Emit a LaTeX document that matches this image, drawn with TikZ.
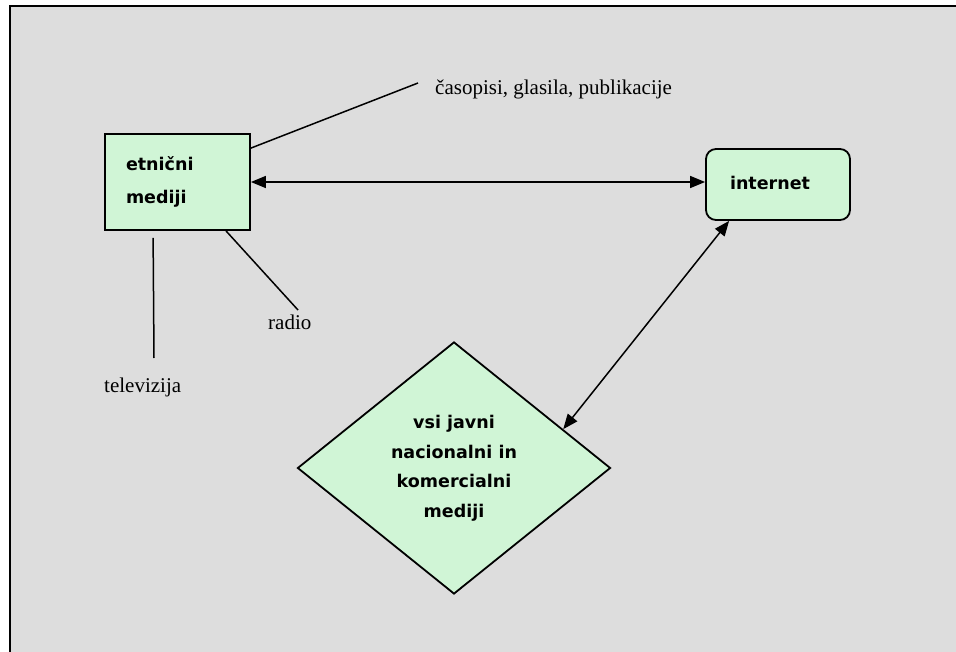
\documentclass[tikz,border=0pt]{standalone}
\usepackage{fontspec}
\setmainfont{Liberation Serif}
\newfontfamily\boxfont{DejaVu Sans}
\usetikzlibrary{arrows.meta,shapes.geometric,calc}
\definecolor{bg}{RGB}{221,221,221}
\definecolor{mint}{RGB}{208,245,214}
\begin{document}
\begin{tikzpicture}[x=1pt,y=-1pt,
  boxstyle/.style={draw=black, line width=1.8pt, fill=mint, inner sep=0pt,
    font=\boxfont\bfseries\fontsize{17.5}{33}\selectfont},
  lbl/.style={font=\fontsize{21}{25}\selectfont, inner sep=0pt, anchor=base west},
  conn/.style={line width=1.5pt},
  dbl/.style={line width=1.5pt, {Triangle[length=15pt,width=12pt]}-{Triangle[length=15pt,width=12pt]}}]
\useasboundingbox (0,0) rectangle (956,652);
\fill[bg] (9.5,6) rectangle (956,652);
\draw[line width=2pt] (9.5,652) -- (9.5,6) -- (956,6);

\node[boxstyle, rectangle, minimum width=145pt, minimum height=96pt,
  text width=103pt, align=left] (em) at (177.5,182) {etnični\\mediji};
\node[boxstyle, rectangle, rounded corners=10pt, minimum width=144pt,
  minimum height=71pt, text width=96pt, align=left] (int) at (778,184.5)
  {\raisebox{3pt}{internet}};
\node[boxstyle, diamond, minimum width=313pt, minimum height=252pt, align=center,
  font=\boxfont\bfseries\fontsize{17.5}{29.5}\selectfont] (dm) at (454,468)
  {vsi javni\\nacionalni in\\komercialni\\mediji};

\draw[dbl] (em.east) -- (em.east -| int.west);
\draw[dbl] ($(int.south west)+(24,0)$) -- ($(dm.north)!0.694!(dm.east)$);

\coordinate (casend) at (418,83);
\node[lbl] (cas) at (435,95) {časopisi, glasila, publikacije};
\draw[conn] ($(em.north east)+(0,15)$) -- (casend);

\coordinate (radend) at (298,310);
\node[lbl] (rad) at (268,330) {radio};
\draw[conn] ($(em.south)+(48.5,0)$) -- (radend);

\coordinate (tvend) at (154,358);
\draw[conn] ($(em.south west)+(49,7)$) -- (tvend);
\node[lbl] (tv) at (104,392) {televizija};
\end{tikzpicture}
\end{document}
